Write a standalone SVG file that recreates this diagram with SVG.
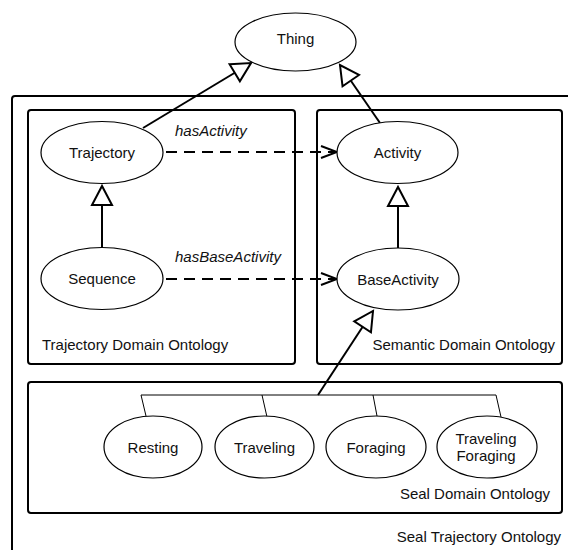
<svg xmlns="http://www.w3.org/2000/svg" width="568" height="550" viewBox="0 0 568 550">
<defs>
<style>
.box{fill:none;stroke:#000;stroke-width:2}
.node ellipse{fill:#fff;stroke:#000;stroke-width:1.2}
text{font-family:"Liberation Sans",Arial,sans-serif;font-size:15px;fill:#111}
.node text{text-anchor:middle}
.lbl{font-style:italic}
.isa{fill:none;stroke:#000;stroke-width:2;marker-end:url(#tri)}
.rel{fill:none;stroke:#000;stroke-width:2;stroke-dasharray:11 7;marker-end:url(#open)}
.tree{fill:none;stroke:#000;stroke-width:1}
</style>
<marker id="tri" markerUnits="userSpaceOnUse" viewBox="0 0 24 24" refX="21" refY="12" markerWidth="24" markerHeight="24" orient="auto">
<path d="M2,2 L21,12 L2,22 Z" fill="#fff" stroke="#000" stroke-width="2"/>
</marker>
<marker id="open" markerUnits="userSpaceOnUse" viewBox="0 0 20 16" refX="18" refY="8" markerWidth="20" markerHeight="16" orient="auto">
<path d="M2,2 L18,8 L2,14" fill="none" stroke="#000" stroke-width="2"/>
</marker>
</defs>
<g id="boxes">
<rect id="seal-trajectory-ontology" class="box" x="12" y="96" width="580" height="480" rx="3"/>
<rect id="trajectory-domain" class="box" x="28" y="110" width="267" height="254" rx="3"/>
<rect id="semantic-domain" class="box" x="317" y="110" width="245" height="254" rx="3"/>
<rect id="seal-domain" class="box" x="28" y="382" width="534" height="131" rx="3"/>
<text x="42" y="350">Trajectory Domain Ontology</text>
<text x="555" y="350" text-anchor="end">Semantic Domain Ontology</text>
<text x="550" y="499" text-anchor="end">Seal Domain Ontology</text>
<text x="561" y="542" text-anchor="end">Seal Trajectory Ontology</text>
</g>
<g id="connectors">
<line class="isa" x1="143" y1="128" x2="251" y2="63"/>
<line class="isa" x1="380" y1="123" x2="340" y2="65"/>
<line class="isa" x1="102" y1="247" x2="102" y2="186"/>
<line class="isa" x1="398" y1="248" x2="398" y2="187"/>
<line class="isa" x1="318" y1="395" x2="373" y2="311"/>
<line class="rel" x1="166" y1="152" x2="337" y2="152"/>
<line class="rel" x1="166" y1="279" x2="337" y2="279"/>
<text class="lbl" x="175" y="136">hasActivity</text>
<text class="lbl" x="175" y="262">hasBaseActivity</text>
<path class="tree" d="M146,416 L141,395 L496,395 L501,417 M262,395 L267,417 M373,395 L377,416"/>
</g>
<g id="thing" class="node"><ellipse cx="295.5" cy="42" rx="60.5" ry="29"/><text x="295.5" y="44">Thing</text></g>
<g id="trajectory" class="node"><ellipse cx="102" cy="152.5" rx="61" ry="31"/><text x="102" y="158">Trajectory</text></g>
<g id="activity" class="node"><ellipse cx="397.5" cy="152.5" rx="60.5" ry="31"/><text x="397.5" y="158">Activity</text></g>
<g id="sequence" class="node"><ellipse cx="102" cy="278.5" rx="61" ry="31"/><text x="102" y="284">Sequence</text></g>
<g id="baseactivity" class="node"><ellipse cx="398" cy="279" rx="61" ry="31"/><text x="398" y="284.5">BaseActivity</text></g>
<g id="resting" class="node"><ellipse cx="153" cy="447" rx="49" ry="31"/><text x="153" y="452.5">Resting</text></g>
<g id="traveling" class="node"><ellipse cx="264.5" cy="447" rx="49.5" ry="31"/><text x="264.5" y="452.5">Traveling</text></g>
<g id="foraging" class="node"><ellipse cx="376" cy="447" rx="50" ry="31"/><text x="376" y="452.5">Foraging</text></g>
<g id="traveling-foraging" class="node"><ellipse cx="487" cy="447" rx="50" ry="31"/><text x="486" y="444">Traveling</text><text x="486" y="461">Foraging</text></g>
</svg>
